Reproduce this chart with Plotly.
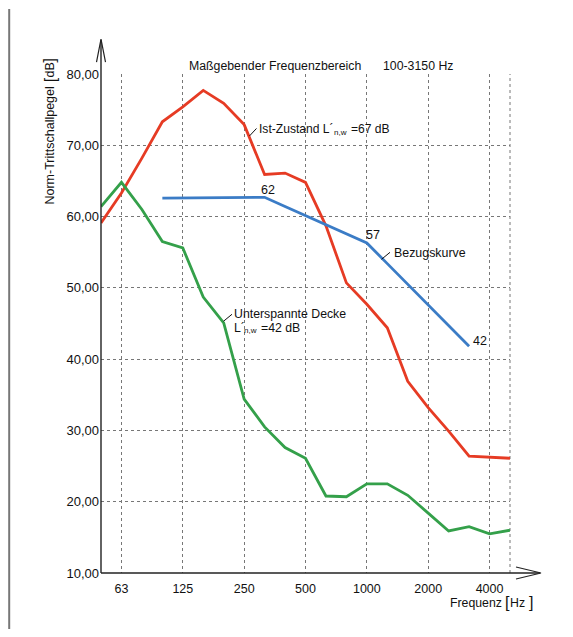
import plotly.graph_objects as go

# ---------------- data ----------------
frequencies = ["50", "63", "80", "100", "125", "160", "200", "250", "315", "400",
               "500", "630", "800", "1000", "1250", "1600", "2000", "2500", "3150",
               "4000", "5000"]
ist_zustand = [59.1, 63.3, 68.2, 73.3, 75.4, 77.7, 75.9, 72.9, 65.9, 66.1,
               64.8, 58.7, 50.7, 47.7, 44.4, 36.9, 33.2, 29.9, 26.4, 26.2, 26.1]
unterspannte_decke = [61.4, 64.8, 61.0, 56.5, 55.6, 48.7, 45.1, 34.4, 30.5, 27.6,
                      26.1, 20.8, 20.7, 22.5, 22.5, 20.9, 18.4, 15.9, 16.5, 15.5, 16.0]
bezug_frequencies = frequencies[3:19]
bezugskurve = [62.6, 62.6, 62.6, 62.6, 62.7, 62.7, 61.4, 60.1, 58.9, 57.6,
               56.3, 53.4, 50.5, 47.6, 44.7, 41.8]
x_tick_labels = ["63", "125", "250", "500", "1000", "2000", "4000"]
y_ticks = [10, 20, 30, 40, 50, 60, 70, 80]
y_tick_labels = ["10,00", "20,00", "30,00", "40,00", "50,00", "60,00", "70,00", "80,00"]

# ---------------- layout geometry ----------------
# the page body has an 8px default margin, so the figure is placed at (8, 8)
OFF = 8
W, H = 573 - 2 * OFF, 637 - 2 * OFF
X0, X1 = 101, 510      # plot area left/right (screen px)
YT, YB = 74, 573.5     # plot area top/bottom (screen px)

def px(x):
    return (x - X0) / (X1 - X0)

def py(y):
    return (YB - y) / (YB - YT)

FONT = "Liberation Sans, Arial, sans-serif"
RED = "#e63b24"
GREEN = "#34a04a"
BLUE = "#3b7cc6"

fig = go.Figure()
fig.add_trace(go.Scatter(x=frequencies, y=ist_zustand, mode="lines",
                         line=dict(color=RED, width=2.8), name="Ist-Zustand"))
fig.add_trace(go.Scatter(x=frequencies, y=unterspannte_decke, mode="lines",
                         line=dict(color=GREEN, width=2.8), name="Unterspannte Decke"))
fig.add_trace(go.Scatter(x=bezug_frequencies, y=bezugskurve, mode="lines",
                         line=dict(color=BLUE, width=2.8), name="Bezugskurve"))

shapes = []
# right dotted border of the grid
shapes.append(dict(type="line", xref="paper", yref="paper", x0=1, x1=1, y0=0, y1=1,
                   line=dict(color="#777", width=1, dash="dot"), layer="below"))
# axes with arrows
shapes.append(dict(type="line", xref="paper", yref="paper", x0=0, x1=0,
                   y0=py(YB), y1=py(40), line=dict(color="#222", width=1.4)))
shapes.append(dict(type="path", xref="paper", yref="paper",
                   path=f"M {px(96.5)} {py(62)} L {px(101)} {py(39)} L {px(105.5)} {py(62)}",
                   line=dict(color="#222", width=1.2)))
shapes.append(dict(type="line", xref="paper", yref="paper", x0=0, x1=px(540),
                   y0=py(YB), y1=py(YB), line=dict(color="#222", width=1.4)))
shapes.append(dict(type="path", xref="paper", yref="paper",
                   path=f"M {px(516)} {py(567.5)} L {px(541)} {py(YB)} L {px(516)} {py(579.5)}",
                   line=dict(color="#222", width=1.2)))
# leader lines
for (xa, ya, xb, yb) in [(249.5, 136, 256.5, 128.5),
                         (381.5, 259.5, 390, 252.5),
                         (223.5, 321.5, 232, 314.5)]:
    shapes.append(dict(type="line", xref="paper", yref="paper",
                       x0=px(xa), y0=py(ya), x1=px(xb), y1=py(yb),
                       line=dict(color="#111", width=1)))
# page frame (left edge)
shapes.append(dict(type="line", xref="paper", yref="paper",
                   x0=px(9.2), x1=px(9.2), y0=py(9), y1=py(640),
                   line=dict(color="#777", width=2)))

def ann(text, x, y, xanchor="left", size=12.2, **kw):
    return dict(text=text, xref="paper", yref="paper", x=px(x), y=py(y),
                xanchor=xanchor, yanchor="middle", showarrow=False, borderpad=0,
                font=dict(family=FONT, size=size, color="#111"), **kw)

annotations = [
    # title
    ann("Maßgebender Frequenzbereich", 188, 65.5, size=12.3),
    ann("100-3150 Hz", 381.5, 65.5, size=12.3),
    # Ist-Zustand label
    ann("Ist-Zustand L´", 257.5, 129, size=12.1),
    ann("n,w", 333, 132.5, size=8),
    ann("=67 dB", 349.5, 129, size=12.1),
    # reference curve labels
    ann("62", 268, 190.5, xanchor="center", size=12.5),
    ann("57", 372.5, 235.5, xanchor="center", size=12.5),
    ann("Bezugskurve", 392.5, 253, size=12.4),
    ann("42", 480, 341.5, xanchor="center", size=12.5),
    # Unterspannte Decke label
    ann("Unterspannte Decke", 232.5, 314, size=12.3),
    ann("L´", 232.5, 328, size=12.3),
    ann("n,w", 242.5, 331, size=8),
    ann("=42 dB", 259.5, 328, size=12.3),
    # y axis title
    ann("Norm-Trittschallpegel", 50, 145.6, xanchor="center", size=12.5, textangle=-90),
    ann("[", 50, 80.3, xanchor="center", size=16, textangle=-90),
    ann("dB", 50, 70.4, xanchor="center", size=12.5, textangle=-90),
    ann("]", 50, 60.6, xanchor="center", size=16, textangle=-90),
    # x axis title
    ann("Frequenz", 449, 603.5, size=12.3),
    ann("[", 504, 603, size=16),
    ann("Hz", 509, 603.5, size=12.3),
    ann("]", 527.5, 603, size=16),
]

fig.update_layout(
    width=W, height=H, autosize=False,
    margin=dict(l=X0 - OFF, r=W - (X1 - OFF), t=YT - OFF, b=H - (YB - OFF), pad=0),
    paper_bgcolor="white", plot_bgcolor="white",
    showlegend=False,
    font=dict(family=FONT, size=12, color="#111"),
    shapes=shapes, annotations=annotations,
    xaxis=dict(type="category", categoryorder="array", categoryarray=frequencies,
               range=[0, 20], tickmode="array", tickvals=x_tick_labels,
               ticktext=x_tick_labels, showgrid=True, gridcolor="#777",
               griddash="dot", gridwidth=1, showline=False, zeroline=False,
               ticks="", ticklabelstandoff=6, tickfont=dict(size=12.5)),
    yaxis=dict(range=[10, 80], tickmode="array", tickvals=y_ticks,
               ticktext=y_tick_labels, showgrid=True, gridcolor="#777",
               griddash="dot", gridwidth=1, showline=False, zeroline=False,
               ticks="", ticklabelstandoff=1, tickfont=dict(size=13)),
)

fig.write_html("out.html")
